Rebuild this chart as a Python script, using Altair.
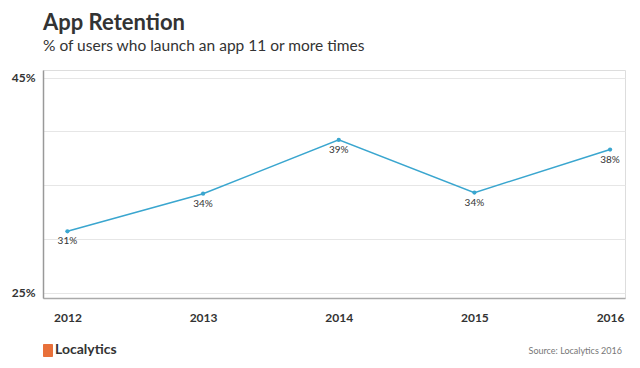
import altair as alt
import pandas as pd

years = [2012, 2013, 2014, 2015, 2016]
retention = [30.7, 34.2, 39.2, 34.3, 38.3]
y_ticks = [25, 30, 35, 40, 45]

df = pd.DataFrame({"year": years, "value": retention})

W, H = 582, 228
FONT = "Lato"
BLUE = "#3aa6cf"

x = alt.X("year:Q", scale=alt.Scale(domain=[2011.82, 2016.11], nice=False, zero=False),
          axis=alt.Axis(values=years, format="d", title=None, ticks=False, grid=False,
                        labelFont=FONT, labelFontSize=12, labelFontWeight="bold",
                        labelColor="#333333", labelPadding=14, domainColor="#aaaaaa",
                        domainWidth=1.5))
y = alt.Y("value:Q", scale=alt.Scale(domain=[24.5, 45.7], nice=False, zero=False),
          axis=alt.Axis(values=y_ticks, title=None, ticks=False, grid=True,
                        gridColor="#e6e6e6", gridWidth=1.2,
                        labelExpr="(datum.value == 25 || datum.value == 45) ? datum.value + '%' : ''",
                        labelFont=FONT, labelFontSize=12, labelFontWeight="bold",
                        labelColor="#333333", labelPadding=8, domainColor="#999999",
                        domainWidth=1.5))

base = alt.Chart(df)
line = base.mark_line(color=BLUE, strokeWidth=1.5).encode(x=x, y=y)
pts = base.mark_circle(color=BLUE, size=18, opacity=1).encode(x=x, y=y)
labels = base.transform_calculate(
    lbl="format(datum.value, '.0f') + '%'"
).mark_text(font=FONT, fontSize=10, color="#333333", dy=10, baseline="middle").encode(
    x=x, y=y, text="lbl:N")

logo_icon = alt.Chart(pd.DataFrame({"k": [0]})).mark_rect(color="#e8703a", cornerRadius=1).encode(
    x=alt.value(0), x2=alt.value(10), y=alt.value(H + 46), y2=alt.value(H + 59))
logo_text = alt.Chart(pd.DataFrame({"t": ["Localytics"]})).mark_text(
    font=FONT, fontSize=14, fontWeight="bold", color="#333333", align="left",
    baseline="middle").encode(x=alt.value(12), y=alt.value(H + 52), text="t:N")
source = alt.Chart(pd.DataFrame({"t": ["Source: Localytics 2016"]})).mark_text(
    font=FONT, fontSize=9, color="#777777", align="right",
    baseline="middle").encode(x=alt.value(W - 3), y=alt.value(H + 53), text="t:N")

chart = alt.layer(line, pts, labels, logo_icon, logo_text, source).properties(
    width=W, height=H,
    autosize=alt.AutoSizeParams(type="none"),
    padding={"left": 35, "top": 62, "right": 7, "bottom": 62},
    title=alt.TitleParams(
        "App Retention",
        subtitle="% of users who launch an app 11 or more times",
        anchor="start", frame="group", font=FONT, fontSize=22, fontWeight="bold",
        color="#333333", subtitleFont=FONT, subtitleFontSize=15.5,
        subtitleColor="#333333", subtitlePadding=4, offset=15),
).configure_view(stroke=None).configure(background="white")

chart.save("out.html", embed_options={"renderer": "svg", "actions": False})
